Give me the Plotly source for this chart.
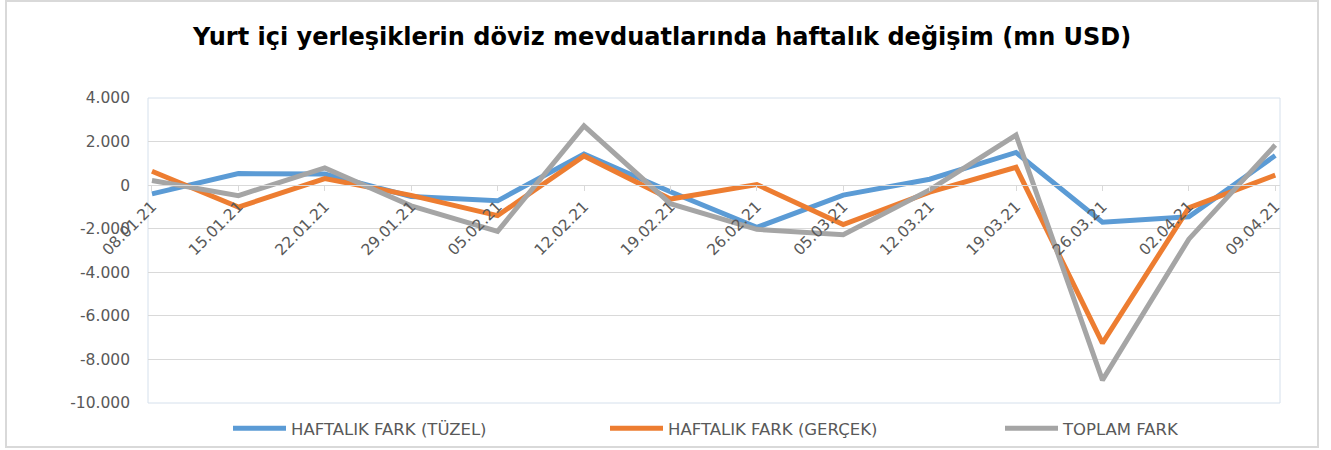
import plotly.graph_objects as go

# haftalık değişim, mn USD
dates = ["08.01.21", "15.01.21", "22.01.21", "29.01.21", "05.02.21", "12.02.21", "19.02.21",
         "26.02.21", "05.03.21", "12.03.21", "19.03.21", "26.03.21", "02.04.21", "09.04.21"]
tuzel = [-400, 530, 510, -520, -720, 1430, -300, -1940, -460, 270, 1500, -1700, -1450, 1360]
gercek = [640, -1010, 300, -470, -1400, 1340, -640, 30, -1810, -320, 820, -7250, -1040, 460]
toplam = [210, -480, 790, -950, -2120, 2720, -850, -2030, -2280, -220, 2300, -8950, -2480, 1840]

y_ticks = [4000, 2000, 0, -2000, -4000, -6000, -8000, -10000]
y_labels = ["4.000", "2.000", "0", "-2.000", "-4.000", "-6.000", "-8.000", "-10.000"]

series = [
    ("HAFTALIK FARK (TÜZEL)", tuzel, "#5B9BD5"),
    ("HAFTALIK FARK (GERÇEK)", gercek, "#ED7D31"),
    ("TOPLAM FARK", toplam, "#A5A5A5"),
]

ymin, ymax = -10000, 4000
W, H = 1331, 450
ml, mr, mt, mb = 148, 51, 98, 47
pw, ph = W - ml - mr, H - mt - mb

font = "DejaVu Sans, Verdana, sans-serif"

# one legend per series so each entry can sit where Excel put it
legend_ids = ["legend", "legend2", "legend3"]
legend_left = [228, 605, 1000]

fig = go.Figure()
for (name, vals, col), lg in zip(series, legend_ids):
    fig.add_trace(go.Scatter(x=dates, y=vals, mode="lines", name=name, legend=lg,
                             line=dict(color=col, width=5)))

layout_legends = {}
for lg, px in zip(legend_ids, legend_left):
    layout_legends[lg] = dict(orientation="h", x=(px - ml) / pw, xanchor="left",
                              y=(H - mb - 411) / ph, yanchor="top", itemwidth=53,
                              font=dict(size=16.5, color="#595959", family=font),
                              bgcolor="rgba(0,0,0,0)")

fig.update_layout(
    width=W, height=H,
    margin=dict(l=ml, r=mr, t=mt, b=mb, autoexpand=False),
    plot_bgcolor="white", paper_bgcolor="white",
    font=dict(family=font, color="#595959", size=15.5),
    title=dict(text="<b>Yurt içi yerleşiklerin döviz mevduatlarında haftalık değişim (mn USD)</b>",
               x=0.4975, xanchor="center", y=0.918, yanchor="middle",
               font=dict(size=24, color="black", family=font)),
    showlegend=True,
    **layout_legends,
)

fig.update_yaxes(range=[ymin, ymax], tickvals=y_ticks, ticktext=y_labels,
                 showgrid=True, gridcolor="#d9d9d9", gridwidth=1, zeroline=False,
                 ticks="", ticklabelstandoff=17, fixedrange=True, automargin=False)
fig.update_xaxes(type="category", range=[-0.046, len(dates) - 1 + 0.055],
                 anchor="free", position=(0 - ymin) / (ymax - ymin), automargin=False,
                 showline=True, linecolor="#d9d9d9", linewidth=1,
                 ticks="outside", ticklen=5, tickcolor="#d9d9d9",
                 tickangle=-45, showgrid=False, tickfont=dict(size=15.5, color="#595959"))

# plot area frame
fig.add_shape(type="rect", xref="paper", yref="paper", x0=0, x1=1, y0=0, y1=1,
              line=dict(color="#d5e0ec", width=1), layer="below")
# outer chart frame
fig.add_shape(type="rect", xref="paper", yref="paper",
              x0=(6 - ml) / pw, x1=(1318 - ml) / pw,
              y0=(H - mb - 447) / ph, y1=(H - mb - 1) / ph,
              line=dict(color="#d9d9d9", width=2), layer="below")

fig.write_html("out.html", config={"displayModeBar": False},
               post_script="document.body.style.margin='0';")
